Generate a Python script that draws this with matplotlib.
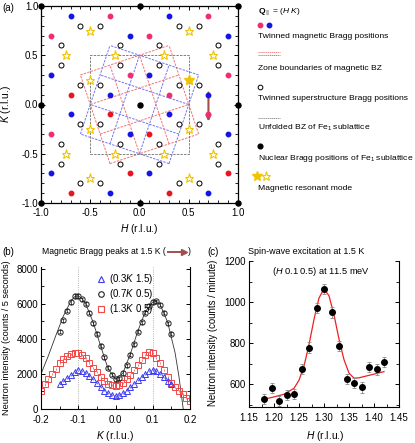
import numpy as np
import matplotlib.pyplot as plt
from matplotlib.lines import Line2D
from matplotlib.ticker import MultipleLocator, FormatStrFormatter

plt.rcParams['font.family'] = ['Liberation Sans', 'DejaVu Sans']
plt.rcParams['mathtext.fontset'] = 'custom'
plt.rcParams['mathtext.rm'] = 'Liberation Sans'
plt.rcParams['mathtext.it'] = 'Liberation Sans:italic'
plt.rcParams['mathtext.bf'] = 'Liberation Sans:bold'
plt.rcParams['axes.unicode_minus'] = False

# ---------------------------------------------------------------- panel (a)
nuclear_h = [0, -1, 0, 1, -1, 1, -1, 0, 1]
nuclear_k = [0, 1, 1, 1, 0, 0, -1, -1, -1]
blue_h = [-0.7, 0.3, -0.1, 0.9, -0.9, 0.1, -0.3, 0.7, -0.7, 0.3, -0.1, 0.9, -0.9, 0.1, -0.3, 0.7]
blue_k = [0.9, 0.9, 0.7, 0.7, 0.3, 0.3, 0.1, 0.1, -0.1, -0.1, -0.3, -0.3, -0.7, -0.7, -0.9, -0.9]
pink_h = [-0.3, 0.7, -0.9, 0.1, 0.9, -0.1, 0.3, 0.7, -0.9]
pink_k = [0.9, 0.9, 0.7, 0.7, 0.3, 0.3, 0.1, -0.1, -0.3]
red_h = [-0.7, -0.3, 0.1, -0.1, 0.9, -0.7, 0.3]
red_k = [0.1, -0.1, -0.3, -0.7, -0.7, -0.9, -0.9]
# superstructure positions: two families of (H, K) grids
sup1_h = [-0.6, -0.4, 0.4, 0.6]
sup1_k = [-0.8, -0.2, 0.2, 0.8]
sup2_h = [-0.8, -0.2, 0.2, 0.8]
sup2_k = [-0.6, -0.4, 0.4, 0.6]
# magnetic resonant mode positions
star1_h = [-0.5, 0.5]
star1_k = [-0.75, -0.25, 0.25, 0.75]
star2_h = [-0.75, -0.25, 0.25, 0.75]
star2_k = [-0.5, 0.5]
star_fill = (0.5, 0.25)
# magnetic zone boundaries: levels of 3H+K and 3K-H
zone_levels = [-1.5, -0.5, 0.5, 1.5]
fe_bz = 0.5
arrow_h, arrow_k0, arrow_k1 = 0.7, 0.15, -0.2

# ---------------------------------------------------------------- panel (b)
kb = [-0.20, -0.19, -0.18, -0.17, -0.16, -0.15, -0.14, -0.13, -0.12, -0.11, -0.10,
      -0.09, -0.08, -0.07, -0.06, -0.05, -0.04, -0.03, -0.02, -0.01, 0.00,
      0.01, 0.02, 0.03, 0.04, 0.05, 0.06, 0.07, 0.08, 0.09, 0.10,
      0.11, 0.12, 0.13, 0.14, 0.15, 0.16, 0.17, 0.18, 0.19, 0.20]
i_13 = [1000, 1400, 1700, 2000, 2300, 2600, 2850, 3050, 3150, 3200, 3200,
        3100, 2900, 2650, 2350, 2100, 1850, 1600, 1450, 1350, 1300,
        1350, 1500, 1700, 1950, 2200, 2500, 2800, 3100, 3250, 3200,
        2900, 2600, 2200, 1800, 1500, 1250, 1050, 850, 650, 450]
k_short = kb[5:36]
i_03 = [1450, 1600, 1750, 1950, 2100, 2200, 2150, 2050, 1900, 1700, 1500,
        1250, 1050, 900, 800, 750, 800, 900, 1050, 1250, 1450,
        1650, 1850, 2000, 2150, 2220, 2150, 2000, 1800, 1600, 1450]
i_07 = [4400, 5050, 5600, 6100, 6450, 6450, 6250, 6000, 5500, 4900, 4300,
        3600, 2950, 2350, 1950, 1700, 1750, 2050, 2500, 3100, 3700,
        4400, 4950, 5500, 5900, 6100, 6150, 5950, 5500, 4900, 4300]
fit07_k = [-0.20, -0.18, -0.16, -0.14, -0.12, -0.11, -0.10, -0.09, -0.08, -0.06, -0.04, -0.02,
           0.00, 0.02, 0.04, 0.06, 0.08, 0.10, 0.11, 0.12, 0.14, 0.16, 0.17, 0.18, 0.19]
fit07_i = [2000, 3050, 4200, 5300, 6150, 6400, 6450, 6300, 6000, 4950, 3600, 2300,
           1700, 2050, 3150, 4450, 5550, 6100, 6150, 5950, 4950, 3200, 1900, 300, -1300]

# ---------------------------------------------------------------- panel (c)
hc = [1.18, 1.195, 1.21, 1.225, 1.24, 1.255, 1.27, 1.285, 1.30, 1.315, 1.33,
      1.345, 1.36, 1.375, 1.39, 1.405, 1.42]
ic = [530, 584, 520, 548, 553, 675, 779, 971, 1065, 950, 787,
      626, 608, 585, 686, 673, 709]
ec = [25, 25, 25, 25, 25, 25, 25, 25, 25, 25, 25, 25, 25, 25, 25, 25, 25]
fitc_h = [1.18, 1.20, 1.22, 1.24, 1.25, 1.26, 1.27, 1.28, 1.29, 1.30, 1.31,
          1.32, 1.33, 1.34, 1.35, 1.36, 1.37, 1.38, 1.40, 1.42]
fitc_i = [528, 539, 552, 581, 620, 689, 793, 916, 1020, 1065, 1031,
          938, 820, 720, 655, 630, 632, 638, 650, 662]

W, H = 415, 443
fig = plt.figure(figsize=(W / 100, H / 100), dpi=100)


def box(x0, y0, x1, y1):
    return [x0 / W, 1 - y1 / H, (x1 - x0) / W, (y1 - y0) / H]


def fxy(x, y):
    return x / W, 1 - y / H


FS = 7
LFS = 7.4
BLUE = '#1414e6'
PINK = '#ee2e6e'
RED = '#e8141e'
GOLD = '#f2c400'
ARROW = '#a0504c'


def style(a):
    a.tick_params(which='both', direction='in', labelsize=FS, pad=2)
    a.tick_params(which='major', length=3, width=0.7)
    a.tick_params(which='minor', length=2, width=0.6)
    for s in a.spines.values():
        s.set_linewidth(0.8)


# ---------------------------------------------------------------- (a)
ax = fig.add_axes(box(41, 6, 238, 203))
zl = np.array([zone_levels[0], zone_levels[-1]])
for c in zone_levels:
    for hh, kk in [((3 * c - zl) / 10, (c + 3 * zl) / 10),
                   ((3 * zl - c) / 10, (zl + 3 * c) / 10)]:
        ax.plot(hh, kk, color='#f27474', lw=0.7, dashes=(2.5, 1.2), zorder=1)
        ax.plot(-hh, kk, color='#7474f2', lw=0.7, dashes=(2.5, 1.2), zorder=1)
ax.plot([-fe_bz, fe_bz, fe_bz, -fe_bz, -fe_bz], [-fe_bz, -fe_bz, fe_bz, fe_bz, -fe_bz],
        color='#808080', lw=0.7, dashes=(2.5, 1.2), zorder=1)

for sh, sk in [(sup1_h, sup1_k), (sup2_h, sup2_k)]:
    gh, gk = np.meshgrid(sh, sk)
    ax.plot(gh.ravel(), gk.ravel(), 'o', ms=3.6, mfc='white', mec='black', mew=0.7,
            ls='none', zorder=3)
for sh, sk in [(star1_h, star1_k), (star2_h, star2_k)]:
    gh, gk = np.meshgrid(sh, sk)
    ax.plot(gh.ravel(), gk.ravel(), '*', ms=6.5, mfc='white', mec=GOLD, mew=0.8,
            ls='none', zorder=3)
ax.plot([star_fill[0]], [star_fill[1]], '*', ms=7, color=GOLD, zorder=4)
ax.plot(blue_h, blue_k, 'o', ms=3.2, color=BLUE, ls='none', zorder=3)
ax.plot(pink_h, pink_k, 'o', ms=3.2, color=PINK, ls='none', zorder=3)
ax.plot(red_h, red_k, 'o', ms=3.2, color=RED, ls='none', zorder=3)
ax.plot(nuclear_h, nuclear_k, 'o', ms=3.6, color='black', ls='none', zorder=5, clip_on=False)
ax.annotate('', xy=(arrow_h, arrow_k1), xytext=(arrow_h, arrow_k0),
            arrowprops=dict(arrowstyle='-|>', color=ARROW, lw=1.5, mutation_scale=7), zorder=2)

ax.set_xlim(-1, 1)
ax.set_ylim(-1, 1)
for axis in (ax.xaxis, ax.yaxis):
    axis.set_major_locator(MultipleLocator(0.5))
    axis.set_minor_locator(MultipleLocator(0.1))
    axis.set_major_formatter(FormatStrFormatter('%.1f'))
style(ax)
ax.tick_params(which='both', top=True, right=True)
ax.tick_params(axis='x', pad=3.5)
for s in ax.spines.values():
    s.set_linewidth(0.9)
fig.text(*fxy(139, 229), '$H$ (r.l.u.)', fontsize=LFS, ha='center', va='center')
fig.text(*fxy(6, 104), '$K$ (r.l.u.)', fontsize=LFS, ha='center', va='center', rotation=90)
fig.text(*fxy(2, 8), '(a)', fontsize=FS, va='center', ha='left')

# legend of (a)
LX = 258
TFS = 6.1
fig.text(*fxy(LX, 12), r'$\mathbf{Q}_{\parallel}$ = ($H$ $K$)', fontsize=TFS, va='center')
for x, col in [(LX + 1.5, PINK), (LX + 11, BLUE)]:
    fig.add_artist(Line2D([x / W], [1 - 25 / H], marker='o', ms=3.2, color=col,
                          transform=fig.transFigure))
fig.text(*fxy(LX, 37), 'Twinned magnetic Bragg positions', fontsize=TFS, va='center')
for y, col in [(51.5, '#f27474'), (54.5, '#7474f2')]:
    fig.add_artist(Line2D([LX / W, (LX + 22) / W], [1 - y / H] * 2, color=col, lw=0.6,
                          dashes=(1.5, 0.8), transform=fig.transFigure))
fig.text(*fxy(LX, 68), 'Zone boundaries of magnetic BZ', fontsize=TFS, va='center')
fig.add_artist(Line2D([(LX + 1.5) / W], [1 - 87 / H], marker='o', ms=3.4, mfc='white',
                      mec='black', mew=0.7, transform=fig.transFigure))
fig.text(*fxy(LX, 99), 'Twinned superstructure Bragg positions', fontsize=TFS, va='center')
fig.add_artist(Line2D([LX / W, (LX + 22) / W], [1 - 118 / H] * 2, color='#808080', lw=0.6,
                      dashes=(1.5, 0.8), transform=fig.transFigure))
fig.text(*fxy(LX, 128), r'Unfolded BZ of Fe$_1$ sublattice', fontsize=TFS, va='center')
fig.add_artist(Line2D([(LX + 1.5) / W], [1 - 146 / H], marker='o', ms=3.4, color='black',
                      transform=fig.transFigure))
fig.text(*fxy(LX, 158), r'Nuclear Bragg positions of Fe$_1$ sublattice', fontsize=TFS, va='center')
fig.add_artist(Line2D([(LX - 1) / W], [1 - 176 / H], marker='*', ms=7, color=GOLD,
                      transform=fig.transFigure))
fig.add_artist(Line2D([(LX + 8) / W], [1 - 176 / H], marker='*', ms=6.5, mfc='white',
                      mec=GOLD, mew=0.8, transform=fig.transFigure))
fig.text(*fxy(LX, 188), 'Magnetic resonant mode', fontsize=TFS, va='center')

# ---------------------------------------------------------------- (b)
bx = fig.add_axes(box(41, 267, 190, 409))
for kv in (-0.1, 0.1):
    bx.axvline(kv, color='#9a9a9a', lw=0.6, ls=':', zorder=0)
bx.plot(fit07_k, fit07_i, color='#333333', lw=0.6, zorder=1)
bx.errorbar(kb, i_13, yerr=60, fmt='s', ms=3.8, mfc='none', mec='#f04848', mew=0.7,
            ecolor='#f04848', elinewidth=0.5, capsize=0, zorder=2)
bx.errorbar(k_short, i_03, yerr=50, fmt='^', ms=3.8, mfc='none', mec='#3c3cf0', mew=0.7,
            ecolor='#3c3cf0', elinewidth=0.5, capsize=0, zorder=3)
bx.errorbar(k_short, i_07, yerr=90, fmt='o', ms=3.8, mfc='none', mec='#222222', mew=0.7,
            ecolor='#222222', elinewidth=0.5, capsize=1, zorder=4)
bx.set_xlim(-0.2, 0.2)
bx.set_ylim(0, 8100)
bx.xaxis.set_major_locator(MultipleLocator(0.1))
bx.xaxis.set_minor_locator(MultipleLocator(0.05))
bx.xaxis.set_major_formatter(FormatStrFormatter('%.1f'))
bx.yaxis.set_major_locator(MultipleLocator(2000))
bx.yaxis.set_minor_locator(MultipleLocator(1000))
bx.spines['top'].set_visible(False)
style(bx)
bx.tick_params(which='both', right=True)
bx.tick_params(axis='x', pad=4)
fig.text(*fxy(115, 436), '$K$ (r.l.u.)', fontsize=LFS, ha='center', va='center')
fig.text(*fxy(7, 338), 'Neutron intensity (counts / 5 seconds)', fontsize=6.6,
         ha='center', va='center', rotation=90)
leg_b = [
    Line2D([], [], marker='^', ls='none', ms=4, mfc='none', mec='#3c3cf0', mew=0.8,
           label='(0.3$K$ 1.5)'),
    Line2D([], [], marker='o', ls='none', ms=4, mfc='none', mec='#222222', mew=0.8,
           label='(0.7$K$ 0.5)'),
    Line2D([], [], marker='s', ls='none', ms=4, mfc='none', mec='#f04848', mew=0.8,
           label='(1.3$K$ 0.5)'),
]
bx.legend(handles=leg_b, loc='upper left', bbox_to_anchor=(0.33, 1.01), frameon=False,
          fontsize=FS, handlelength=0.8, handletextpad=0.4, labelspacing=0.1,
          borderpad=0.2)
fig.text(*fxy(2, 252), '(b)', fontsize=FS, va='center')
fig.text(*fxy(42, 252), 'Magnetic Bragg peaks at 1.5 K (', fontsize=6.2, va='center')
fig.add_artist(Line2D([168 / W, 182 / W], [1 - 252 / H] * 2, color=ARROW, lw=1.4,
                      transform=fig.transFigure))
fig.add_artist(Line2D([184 / W], [1 - 252 / H], marker='>', ms=4, color=ARROW,
                      transform=fig.transFigure))
fig.text(*fxy(188, 252), ')', fontsize=6.2, va='center')

# ---------------------------------------------------------------- (c)
cx = fig.add_axes(box(249, 261, 399, 407))
cx.plot(fitc_h, fitc_i, color='#ee2020', lw=0.9, zorder=1)
cx.errorbar(hc, ic, yerr=ec, fmt='o', ms=4, color='black', ecolor='#8a8a8a',
            elinewidth=0.6, capsize=1.5, capthick=0.6, zorder=2)
cx.set_xlim(1.15, 1.45)
cx.set_ylim(490, 1200)
cx.xaxis.set_major_locator(MultipleLocator(0.05))
cx.xaxis.set_minor_locator(MultipleLocator(0.025))
cx.xaxis.set_major_formatter(FormatStrFormatter('%.2f'))
cx.yaxis.set_major_locator(MultipleLocator(200))
cx.yaxis.set_minor_locator(MultipleLocator(100))
cx.spines['top'].set_visible(False)
style(cx)
cx.tick_params(which='both', right=True)
cx.tick_params(axis='x', pad=4)
fig.text(*fxy(325, 436), '$H$ (r.l.u.)', fontsize=LFS, ha='center', va='center')
fig.text(*fxy(213, 333), 'Neutron intensity (counts / minute)', fontsize=6.9,
         ha='center', va='center', rotation=90)
fig.text(*fxy(321, 272), '($H$ 0.1 0.5) at 11.5 meV', fontsize=6.7, ha='center', va='center')
fig.text(*fxy(207, 252), '(c)', fontsize=FS, va='center')
fig.text(*fxy(248, 252), 'Spin-wave excitation at 1.5 K', fontsize=6.5, va='center')

fig.savefig('out.png', dpi=100)
